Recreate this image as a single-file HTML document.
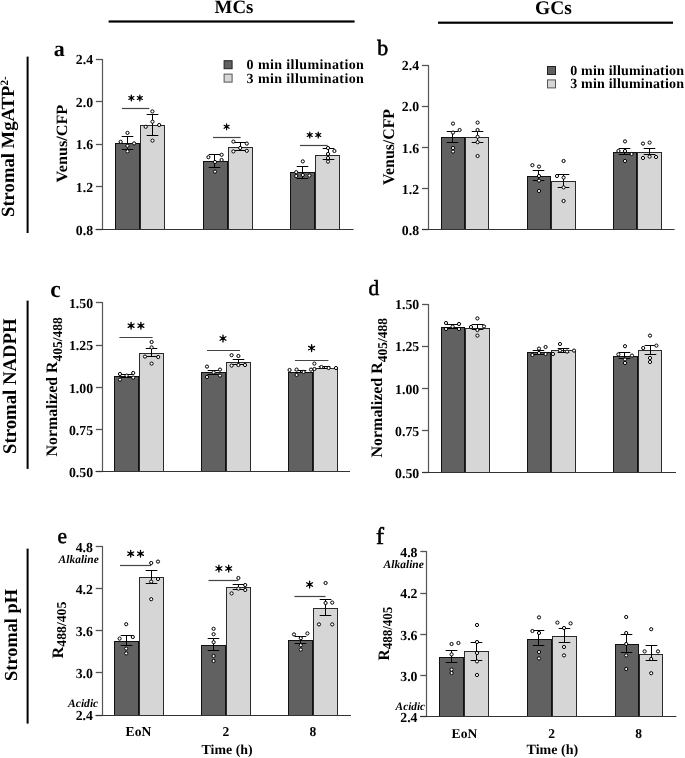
<!DOCTYPE html>
<html><head><meta charset="utf-8"><title>Figure</title>
<style>
html,body{margin:0;padding:0;background:#fff;}
body{width:685px;height:758px;overflow:hidden;}
svg{display:block;font-family:'Liberation Serif', serif;text-rendering:geometricPrecision;filter:grayscale(1);}
</style></head>
<body>
<svg width="685" height="758" viewBox="0 0 685 758">
<rect x="0" y="0" width="685" height="758" fill="#fff"/>
<line x1="95.90" y1="59.50" x2="102.50" y2="59.50" stroke="#555" stroke-width="1.3"/>
<text x="93.10" y="64.30" font-size="13.8" text-anchor="end" font-weight="bold" font-style="normal" >2.4</text>
<line x1="95.90" y1="101.50" x2="102.50" y2="101.50" stroke="#555" stroke-width="1.3"/>
<text x="93.10" y="106.80" font-size="13.8" text-anchor="end" font-weight="bold" font-style="normal" >2.0</text>
<line x1="95.90" y1="144.50" x2="102.50" y2="144.50" stroke="#555" stroke-width="1.3"/>
<text x="93.10" y="149.30" font-size="13.8" text-anchor="end" font-weight="bold" font-style="normal" >1.6</text>
<line x1="95.90" y1="186.50" x2="102.50" y2="186.50" stroke="#555" stroke-width="1.3"/>
<text x="93.10" y="191.90" font-size="13.8" text-anchor="end" font-weight="bold" font-style="normal" >1.2</text>
<line x1="95.90" y1="229.50" x2="102.50" y2="229.50" stroke="#555" stroke-width="1.3"/>
<text x="93.10" y="234.50" font-size="13.8" text-anchor="end" font-weight="bold" font-style="normal" >0.8</text>
<line x1="102.50" y1="59.00" x2="102.50" y2="229.50" stroke="#555" stroke-width="1.2"/>
<rect x="115.50" y="143.50" width="24.00" height="86.00" fill="#616161" stroke="#111" stroke-width="1.0"/>
<rect x="140.50" y="125.50" width="24.00" height="104.00" fill="#d6d6d6" stroke="#2a2a2a" stroke-width="1.0"/>
<rect x="203.50" y="161.50" width="24.00" height="68.00" fill="#616161" stroke="#111" stroke-width="1.0"/>
<rect x="228.50" y="147.50" width="24.00" height="82.00" fill="#d6d6d6" stroke="#2a2a2a" stroke-width="1.0"/>
<rect x="290.50" y="172.50" width="24.00" height="57.00" fill="#616161" stroke="#111" stroke-width="1.0"/>
<rect x="315.50" y="155.50" width="24.00" height="74.00" fill="#d6d6d6" stroke="#2a2a2a" stroke-width="1.0"/>
<line x1="95.60" y1="229.50" x2="353.60" y2="229.50" stroke="#333" stroke-width="1.0"/>
<line x1="127.50" y1="136.50" x2="127.50" y2="149.50" stroke="#000" stroke-width="1.0"/>
<line x1="121.70" y1="136.50" x2="133.30" y2="136.50" stroke="#000" stroke-width="1.0"/>
<line x1="121.70" y1="149.50" x2="133.30" y2="149.50" stroke="#000" stroke-width="1.0"/>
<line x1="152.50" y1="114.50" x2="152.50" y2="135.50" stroke="#000" stroke-width="1.0"/>
<line x1="146.70" y1="114.50" x2="158.30" y2="114.50" stroke="#000" stroke-width="1.0"/>
<line x1="146.70" y1="135.50" x2="158.30" y2="135.50" stroke="#000" stroke-width="1.0"/>
<circle cx="127.50" cy="132.90" r="1.6" fill="#fff" stroke="#000" stroke-width="1.0"/>
<circle cx="120.70" cy="141.80" r="1.6" fill="#fff" stroke="#000" stroke-width="1.0"/>
<circle cx="134.10" cy="143.40" r="1.6" fill="#fff" stroke="#000" stroke-width="1.0"/>
<circle cx="127.50" cy="145.80" r="1.6" fill="#fff" stroke="#000" stroke-width="1.0"/>
<circle cx="127.50" cy="151.30" r="1.6" fill="#fff" stroke="#000" stroke-width="1.0"/>
<circle cx="152.40" cy="111.40" r="1.6" fill="#fff" stroke="#000" stroke-width="1.0"/>
<circle cx="152.50" cy="121.70" r="1.6" fill="#fff" stroke="#000" stroke-width="1.0"/>
<circle cx="145.70" cy="126.80" r="1.6" fill="#fff" stroke="#000" stroke-width="1.0"/>
<circle cx="159.20" cy="125.00" r="1.6" fill="#fff" stroke="#000" stroke-width="1.0"/>
<circle cx="152.50" cy="140.60" r="1.6" fill="#fff" stroke="#000" stroke-width="1.0"/>
<line x1="122.00" y1="108.50" x2="149.40" y2="108.50" stroke="#444" stroke-width="1.2"/>
<path d="M131.35 95.10L131.35 100.90M128.84 96.55L133.86 99.45M133.86 96.55L128.84 99.45" stroke="#000" stroke-width="1.2" stroke-linecap="round"/>
<circle cx="131.35" cy="98.00" r="1.45" fill="#000"/>
<path d="M139.85 95.10L139.85 100.90M137.34 96.55L142.36 99.45M142.36 96.55L137.34 99.45" stroke="#000" stroke-width="1.2" stroke-linecap="round"/>
<circle cx="139.85" cy="98.00" r="1.45" fill="#000"/>
<line x1="214.50" y1="154.50" x2="214.50" y2="167.50" stroke="#000" stroke-width="1.0"/>
<line x1="208.70" y1="154.50" x2="220.30" y2="154.50" stroke="#000" stroke-width="1.0"/>
<line x1="208.70" y1="167.50" x2="220.30" y2="167.50" stroke="#000" stroke-width="1.0"/>
<line x1="240.50" y1="142.50" x2="240.50" y2="150.50" stroke="#000" stroke-width="1.0"/>
<line x1="234.70" y1="142.50" x2="246.30" y2="142.50" stroke="#000" stroke-width="1.0"/>
<line x1="234.70" y1="150.50" x2="246.30" y2="150.50" stroke="#000" stroke-width="1.0"/>
<circle cx="208.40" cy="157.20" r="1.6" fill="#fff" stroke="#000" stroke-width="1.0"/>
<circle cx="221.60" cy="154.80" r="1.6" fill="#fff" stroke="#000" stroke-width="1.0"/>
<circle cx="221.60" cy="160.00" r="1.6" fill="#fff" stroke="#000" stroke-width="1.0"/>
<circle cx="215.00" cy="162.00" r="1.6" fill="#fff" stroke="#000" stroke-width="1.0"/>
<circle cx="215.00" cy="171.60" r="1.6" fill="#fff" stroke="#000" stroke-width="1.0"/>
<circle cx="233.40" cy="141.60" r="1.6" fill="#fff" stroke="#000" stroke-width="1.0"/>
<circle cx="246.80" cy="143.60" r="1.6" fill="#fff" stroke="#000" stroke-width="1.0"/>
<circle cx="240.20" cy="148.00" r="1.6" fill="#fff" stroke="#000" stroke-width="1.0"/>
<circle cx="233.40" cy="151.40" r="1.6" fill="#fff" stroke="#000" stroke-width="1.0"/>
<circle cx="246.80" cy="150.80" r="1.6" fill="#fff" stroke="#000" stroke-width="1.0"/>
<line x1="213.00" y1="137.50" x2="240.60" y2="137.50" stroke="#444" stroke-width="1.2"/>
<path d="M226.60 123.90L226.60 129.70M224.09 125.35L229.11 128.25M229.11 125.35L224.09 128.25" stroke="#000" stroke-width="1.2" stroke-linecap="round"/>
<circle cx="226.60" cy="126.80" r="1.45" fill="#000"/>
<line x1="302.50" y1="166.50" x2="302.50" y2="178.50" stroke="#000" stroke-width="1.0"/>
<line x1="296.70" y1="166.50" x2="308.30" y2="166.50" stroke="#000" stroke-width="1.0"/>
<line x1="296.70" y1="178.50" x2="308.30" y2="178.50" stroke="#000" stroke-width="1.0"/>
<line x1="328.50" y1="148.50" x2="328.50" y2="159.50" stroke="#000" stroke-width="1.0"/>
<line x1="322.70" y1="148.50" x2="334.30" y2="148.50" stroke="#000" stroke-width="1.0"/>
<line x1="322.70" y1="159.50" x2="334.30" y2="159.50" stroke="#000" stroke-width="1.0"/>
<circle cx="302.80" cy="161.40" r="1.6" fill="#fff" stroke="#000" stroke-width="1.0"/>
<circle cx="296.20" cy="172.20" r="1.6" fill="#fff" stroke="#000" stroke-width="1.0"/>
<circle cx="296.20" cy="176.00" r="1.6" fill="#fff" stroke="#000" stroke-width="1.0"/>
<circle cx="302.80" cy="175.00" r="1.6" fill="#fff" stroke="#000" stroke-width="1.0"/>
<circle cx="309.40" cy="175.60" r="1.6" fill="#fff" stroke="#000" stroke-width="1.0"/>
<circle cx="328.00" cy="148.00" r="1.6" fill="#fff" stroke="#000" stroke-width="1.0"/>
<circle cx="334.40" cy="151.00" r="1.6" fill="#fff" stroke="#000" stroke-width="1.0"/>
<circle cx="328.00" cy="154.00" r="1.6" fill="#fff" stroke="#000" stroke-width="1.0"/>
<circle cx="328.00" cy="158.00" r="1.6" fill="#fff" stroke="#000" stroke-width="1.0"/>
<circle cx="328.00" cy="161.60" r="1.6" fill="#fff" stroke="#000" stroke-width="1.0"/>
<line x1="300.00" y1="145.50" x2="327.60" y2="145.50" stroke="#444" stroke-width="1.2"/>
<path d="M309.75 132.10L309.75 137.90M307.24 133.55L312.26 136.45M312.26 133.55L307.24 136.45" stroke="#000" stroke-width="1.2" stroke-linecap="round"/>
<circle cx="309.75" cy="135.00" r="1.45" fill="#000"/>
<path d="M318.25 132.10L318.25 137.90M315.74 133.55L320.76 136.45M320.76 133.55L315.74 136.45" stroke="#000" stroke-width="1.2" stroke-linecap="round"/>
<circle cx="318.25" cy="135.00" r="1.45" fill="#000"/>
<line x1="421.90" y1="65.50" x2="428.50" y2="65.50" stroke="#555" stroke-width="1.3"/>
<text x="419.10" y="70.30" font-size="13.8" text-anchor="end" font-weight="bold" font-style="normal" >2.4</text>
<line x1="421.90" y1="106.50" x2="428.50" y2="106.50" stroke="#555" stroke-width="1.3"/>
<text x="419.10" y="111.30" font-size="13.8" text-anchor="end" font-weight="bold" font-style="normal" >2.0</text>
<line x1="421.90" y1="147.50" x2="428.50" y2="147.50" stroke="#555" stroke-width="1.3"/>
<text x="419.10" y="152.70" font-size="13.8" text-anchor="end" font-weight="bold" font-style="normal" >1.6</text>
<line x1="421.90" y1="188.50" x2="428.50" y2="188.50" stroke="#555" stroke-width="1.3"/>
<text x="419.10" y="193.50" font-size="13.8" text-anchor="end" font-weight="bold" font-style="normal" >1.2</text>
<line x1="421.90" y1="229.50" x2="428.50" y2="229.50" stroke="#555" stroke-width="1.3"/>
<text x="419.10" y="234.70" font-size="13.8" text-anchor="end" font-weight="bold" font-style="normal" >0.8</text>
<line x1="428.50" y1="65.00" x2="428.50" y2="229.50" stroke="#555" stroke-width="1.2"/>
<rect x="441.50" y="137.50" width="23.00" height="92.00" fill="#616161" stroke="#111" stroke-width="1.0"/>
<rect x="465.50" y="137.50" width="23.00" height="92.00" fill="#d6d6d6" stroke="#2a2a2a" stroke-width="1.0"/>
<rect x="527.50" y="176.50" width="23.00" height="53.00" fill="#616161" stroke="#111" stroke-width="1.0"/>
<rect x="551.50" y="181.50" width="24.00" height="48.00" fill="#d6d6d6" stroke="#2a2a2a" stroke-width="1.0"/>
<rect x="613.50" y="152.50" width="23.00" height="77.00" fill="#616161" stroke="#111" stroke-width="1.0"/>
<rect x="637.50" y="152.50" width="24.00" height="77.00" fill="#d6d6d6" stroke="#2a2a2a" stroke-width="1.0"/>
<line x1="422.00" y1="229.50" x2="674.60" y2="229.50" stroke="#333" stroke-width="1.0"/>
<line x1="452.50" y1="131.50" x2="452.50" y2="142.50" stroke="#000" stroke-width="1.0"/>
<line x1="446.70" y1="131.50" x2="458.30" y2="131.50" stroke="#000" stroke-width="1.0"/>
<line x1="446.70" y1="142.50" x2="458.30" y2="142.50" stroke="#000" stroke-width="1.0"/>
<line x1="477.50" y1="131.50" x2="477.50" y2="142.50" stroke="#000" stroke-width="1.0"/>
<line x1="471.70" y1="131.50" x2="483.30" y2="131.50" stroke="#000" stroke-width="1.0"/>
<line x1="471.70" y1="142.50" x2="483.30" y2="142.50" stroke="#000" stroke-width="1.0"/>
<circle cx="453.00" cy="123.60" r="1.6" fill="#fff" stroke="#000" stroke-width="1.0"/>
<circle cx="459.60" cy="130.00" r="1.6" fill="#fff" stroke="#000" stroke-width="1.0"/>
<circle cx="453.00" cy="132.60" r="1.6" fill="#fff" stroke="#000" stroke-width="1.0"/>
<circle cx="453.00" cy="148.00" r="1.6" fill="#fff" stroke="#000" stroke-width="1.0"/>
<circle cx="453.00" cy="151.60" r="1.6" fill="#fff" stroke="#000" stroke-width="1.0"/>
<circle cx="477.60" cy="122.60" r="1.6" fill="#fff" stroke="#000" stroke-width="1.0"/>
<circle cx="477.60" cy="130.00" r="1.6" fill="#fff" stroke="#000" stroke-width="1.0"/>
<circle cx="477.60" cy="136.80" r="1.6" fill="#fff" stroke="#000" stroke-width="1.0"/>
<circle cx="477.60" cy="142.20" r="1.6" fill="#fff" stroke="#000" stroke-width="1.0"/>
<circle cx="477.60" cy="156.00" r="1.6" fill="#fff" stroke="#000" stroke-width="1.0"/>
<line x1="538.50" y1="170.50" x2="538.50" y2="180.50" stroke="#000" stroke-width="1.0"/>
<line x1="532.70" y1="170.50" x2="544.30" y2="170.50" stroke="#000" stroke-width="1.0"/>
<line x1="532.70" y1="180.50" x2="544.30" y2="180.50" stroke="#000" stroke-width="1.0"/>
<line x1="563.50" y1="174.50" x2="563.50" y2="187.50" stroke="#000" stroke-width="1.0"/>
<line x1="557.70" y1="174.50" x2="569.30" y2="174.50" stroke="#000" stroke-width="1.0"/>
<line x1="557.70" y1="187.50" x2="569.30" y2="187.50" stroke="#000" stroke-width="1.0"/>
<circle cx="532.40" cy="165.20" r="1.6" fill="#fff" stroke="#000" stroke-width="1.0"/>
<circle cx="539.00" cy="166.60" r="1.6" fill="#fff" stroke="#000" stroke-width="1.0"/>
<circle cx="539.00" cy="176.00" r="1.6" fill="#fff" stroke="#000" stroke-width="1.0"/>
<circle cx="539.00" cy="180.60" r="1.6" fill="#fff" stroke="#000" stroke-width="1.0"/>
<circle cx="539.00" cy="191.00" r="1.6" fill="#fff" stroke="#000" stroke-width="1.0"/>
<circle cx="563.60" cy="161.00" r="1.6" fill="#fff" stroke="#000" stroke-width="1.0"/>
<circle cx="557.00" cy="176.00" r="1.6" fill="#fff" stroke="#000" stroke-width="1.0"/>
<circle cx="563.60" cy="177.60" r="1.6" fill="#fff" stroke="#000" stroke-width="1.0"/>
<circle cx="563.60" cy="187.40" r="1.6" fill="#fff" stroke="#000" stroke-width="1.0"/>
<circle cx="563.60" cy="201.00" r="1.6" fill="#fff" stroke="#000" stroke-width="1.0"/>
<line x1="624.50" y1="148.50" x2="624.50" y2="154.50" stroke="#000" stroke-width="1.0"/>
<line x1="618.70" y1="148.50" x2="630.30" y2="148.50" stroke="#000" stroke-width="1.0"/>
<line x1="618.70" y1="154.50" x2="630.30" y2="154.50" stroke="#000" stroke-width="1.0"/>
<line x1="649.50" y1="148.50" x2="649.50" y2="154.50" stroke="#000" stroke-width="1.0"/>
<line x1="643.70" y1="148.50" x2="655.30" y2="148.50" stroke="#000" stroke-width="1.0"/>
<line x1="643.70" y1="154.50" x2="655.30" y2="154.50" stroke="#000" stroke-width="1.0"/>
<circle cx="625.00" cy="141.40" r="1.6" fill="#fff" stroke="#000" stroke-width="1.0"/>
<circle cx="618.40" cy="151.00" r="1.6" fill="#fff" stroke="#000" stroke-width="1.0"/>
<circle cx="625.00" cy="151.00" r="1.6" fill="#fff" stroke="#000" stroke-width="1.0"/>
<circle cx="631.60" cy="154.00" r="1.6" fill="#fff" stroke="#000" stroke-width="1.0"/>
<circle cx="625.00" cy="161.00" r="1.6" fill="#fff" stroke="#000" stroke-width="1.0"/>
<circle cx="643.00" cy="143.60" r="1.6" fill="#fff" stroke="#000" stroke-width="1.0"/>
<circle cx="649.60" cy="142.60" r="1.6" fill="#fff" stroke="#000" stroke-width="1.0"/>
<circle cx="643.00" cy="158.00" r="1.6" fill="#fff" stroke="#000" stroke-width="1.0"/>
<circle cx="649.60" cy="156.60" r="1.6" fill="#fff" stroke="#000" stroke-width="1.0"/>
<circle cx="656.00" cy="157.00" r="1.6" fill="#fff" stroke="#000" stroke-width="1.0"/>
<line x1="95.90" y1="302.50" x2="102.50" y2="302.50" stroke="#555" stroke-width="1.3"/>
<text x="93.10" y="308.10" font-size="13.8" text-anchor="end" font-weight="bold" font-style="normal" >1.50</text>
<line x1="95.90" y1="345.50" x2="102.50" y2="345.50" stroke="#555" stroke-width="1.3"/>
<text x="93.10" y="350.30" font-size="13.8" text-anchor="end" font-weight="bold" font-style="normal" >1.25</text>
<line x1="95.90" y1="387.50" x2="102.50" y2="387.50" stroke="#555" stroke-width="1.3"/>
<text x="93.10" y="392.70" font-size="13.8" text-anchor="end" font-weight="bold" font-style="normal" >1.00</text>
<line x1="95.90" y1="429.50" x2="102.50" y2="429.50" stroke="#555" stroke-width="1.3"/>
<text x="93.10" y="434.70" font-size="13.8" text-anchor="end" font-weight="bold" font-style="normal" >0.75</text>
<line x1="95.90" y1="471.50" x2="102.50" y2="471.50" stroke="#555" stroke-width="1.3"/>
<text x="93.10" y="477.10" font-size="13.8" text-anchor="end" font-weight="bold" font-style="normal" >0.50</text>
<line x1="102.50" y1="302.00" x2="102.50" y2="471.50" stroke="#555" stroke-width="1.2"/>
<rect x="114.50" y="376.50" width="24.00" height="95.00" fill="#616161" stroke="#111" stroke-width="1.0"/>
<rect x="139.50" y="353.50" width="24.00" height="118.00" fill="#d6d6d6" stroke="#2a2a2a" stroke-width="1.0"/>
<rect x="201.50" y="372.50" width="24.00" height="99.00" fill="#616161" stroke="#111" stroke-width="1.0"/>
<rect x="226.50" y="362.50" width="24.00" height="109.00" fill="#d6d6d6" stroke="#2a2a2a" stroke-width="1.0"/>
<rect x="288.50" y="372.50" width="24.00" height="99.00" fill="#616161" stroke="#111" stroke-width="1.0"/>
<rect x="313.50" y="368.50" width="24.00" height="103.00" fill="#d6d6d6" stroke="#2a2a2a" stroke-width="1.0"/>
<line x1="95.60" y1="471.50" x2="350.00" y2="471.50" stroke="#333" stroke-width="1.0"/>
<line x1="126.50" y1="374.50" x2="126.50" y2="377.50" stroke="#000" stroke-width="1.0"/>
<line x1="120.70" y1="374.50" x2="132.30" y2="374.50" stroke="#000" stroke-width="1.0"/>
<line x1="120.70" y1="377.50" x2="132.30" y2="377.50" stroke="#000" stroke-width="1.0"/>
<line x1="151.50" y1="348.50" x2="151.50" y2="356.50" stroke="#000" stroke-width="1.0"/>
<line x1="145.70" y1="348.50" x2="157.30" y2="348.50" stroke="#000" stroke-width="1.0"/>
<line x1="145.70" y1="356.50" x2="157.30" y2="356.50" stroke="#000" stroke-width="1.0"/>
<circle cx="120.00" cy="374.00" r="1.6" fill="#fff" stroke="#000" stroke-width="1.0"/>
<circle cx="126.60" cy="375.60" r="1.6" fill="#fff" stroke="#000" stroke-width="1.0"/>
<circle cx="133.20" cy="373.00" r="1.6" fill="#fff" stroke="#000" stroke-width="1.0"/>
<circle cx="120.00" cy="379.60" r="1.6" fill="#fff" stroke="#000" stroke-width="1.0"/>
<circle cx="133.20" cy="377.60" r="1.6" fill="#fff" stroke="#000" stroke-width="1.0"/>
<circle cx="151.60" cy="342.00" r="1.6" fill="#fff" stroke="#000" stroke-width="1.0"/>
<circle cx="151.60" cy="347.40" r="1.6" fill="#fff" stroke="#000" stroke-width="1.0"/>
<circle cx="145.00" cy="356.60" r="1.6" fill="#fff" stroke="#000" stroke-width="1.0"/>
<circle cx="158.20" cy="357.00" r="1.6" fill="#fff" stroke="#000" stroke-width="1.0"/>
<circle cx="151.60" cy="363.60" r="1.6" fill="#fff" stroke="#000" stroke-width="1.0"/>
<line x1="119.40" y1="337.50" x2="152.60" y2="337.50" stroke="#444" stroke-width="1.2"/>
<path d="M131.10 322.30L131.10 329.10M128.16 324.00L134.04 327.40M134.04 324.00L128.16 327.40" stroke="#000" stroke-width="1.3" stroke-linecap="round"/>
<circle cx="131.10" cy="325.70" r="1.75" fill="#000"/>
<path d="M140.90 322.30L140.90 329.10M137.96 324.00L143.84 327.40M143.84 324.00L137.96 327.40" stroke="#000" stroke-width="1.3" stroke-linecap="round"/>
<circle cx="140.90" cy="325.70" r="1.75" fill="#000"/>
<line x1="213.50" y1="370.50" x2="213.50" y2="374.50" stroke="#000" stroke-width="1.0"/>
<line x1="207.70" y1="370.50" x2="219.30" y2="370.50" stroke="#000" stroke-width="1.0"/>
<line x1="207.70" y1="374.50" x2="219.30" y2="374.50" stroke="#000" stroke-width="1.0"/>
<line x1="238.50" y1="359.50" x2="238.50" y2="364.50" stroke="#000" stroke-width="1.0"/>
<line x1="232.70" y1="359.50" x2="244.30" y2="359.50" stroke="#000" stroke-width="1.0"/>
<line x1="232.70" y1="364.50" x2="244.30" y2="364.50" stroke="#000" stroke-width="1.0"/>
<circle cx="207.00" cy="366.60" r="1.6" fill="#fff" stroke="#000" stroke-width="1.0"/>
<circle cx="220.00" cy="369.60" r="1.6" fill="#fff" stroke="#000" stroke-width="1.0"/>
<circle cx="213.60" cy="372.40" r="1.6" fill="#fff" stroke="#000" stroke-width="1.0"/>
<circle cx="207.00" cy="377.00" r="1.6" fill="#fff" stroke="#000" stroke-width="1.0"/>
<circle cx="220.00" cy="375.60" r="1.6" fill="#fff" stroke="#000" stroke-width="1.0"/>
<circle cx="231.60" cy="355.20" r="1.6" fill="#fff" stroke="#000" stroke-width="1.0"/>
<circle cx="238.40" cy="356.00" r="1.6" fill="#fff" stroke="#000" stroke-width="1.0"/>
<circle cx="231.60" cy="365.60" r="1.6" fill="#fff" stroke="#000" stroke-width="1.0"/>
<circle cx="238.40" cy="365.00" r="1.6" fill="#fff" stroke="#000" stroke-width="1.0"/>
<circle cx="245.00" cy="365.00" r="1.6" fill="#fff" stroke="#000" stroke-width="1.0"/>
<line x1="207.00" y1="350.50" x2="240.00" y2="350.50" stroke="#444" stroke-width="1.2"/>
<path d="M223.00 335.10L223.00 341.90M220.06 336.80L225.94 340.20M225.94 336.80L220.06 340.20" stroke="#000" stroke-width="1.3" stroke-linecap="round"/>
<circle cx="223.00" cy="338.50" r="1.75" fill="#000"/>
<line x1="300.50" y1="370.50" x2="300.50" y2="372.50" stroke="#000" stroke-width="1.0"/>
<line x1="294.70" y1="370.50" x2="306.30" y2="370.50" stroke="#000" stroke-width="1.0"/>
<line x1="294.70" y1="372.50" x2="306.30" y2="372.50" stroke="#000" stroke-width="1.0"/>
<line x1="324.50" y1="366.50" x2="324.50" y2="368.50" stroke="#000" stroke-width="1.0"/>
<line x1="318.70" y1="366.50" x2="330.30" y2="366.50" stroke="#000" stroke-width="1.0"/>
<line x1="318.70" y1="368.50" x2="330.30" y2="368.50" stroke="#000" stroke-width="1.0"/>
<circle cx="289.60" cy="370.00" r="1.6" fill="#fff" stroke="#000" stroke-width="1.0"/>
<circle cx="296.60" cy="369.60" r="1.6" fill="#fff" stroke="#000" stroke-width="1.0"/>
<circle cx="296.60" cy="375.00" r="1.6" fill="#fff" stroke="#000" stroke-width="1.0"/>
<circle cx="303.60" cy="372.00" r="1.6" fill="#fff" stroke="#000" stroke-width="1.0"/>
<circle cx="311.00" cy="369.60" r="1.6" fill="#fff" stroke="#000" stroke-width="1.0"/>
<circle cx="314.40" cy="363.60" r="1.6" fill="#fff" stroke="#000" stroke-width="1.0"/>
<circle cx="314.40" cy="369.00" r="1.6" fill="#fff" stroke="#000" stroke-width="1.0"/>
<circle cx="321.40" cy="367.00" r="1.6" fill="#fff" stroke="#000" stroke-width="1.0"/>
<circle cx="328.60" cy="368.00" r="1.6" fill="#fff" stroke="#000" stroke-width="1.0"/>
<circle cx="336.00" cy="368.00" r="1.6" fill="#fff" stroke="#000" stroke-width="1.0"/>
<line x1="295.00" y1="360.50" x2="328.40" y2="360.50" stroke="#444" stroke-width="1.2"/>
<path d="M311.60 344.70L311.60 351.50M308.66 346.40L314.54 349.80M314.54 346.40L308.66 349.80" stroke="#000" stroke-width="1.3" stroke-linecap="round"/>
<circle cx="311.60" cy="348.10" r="1.75" fill="#000"/>
<line x1="422.00" y1="304.50" x2="428.50" y2="304.50" stroke="#555" stroke-width="1.3"/>
<text x="419.20" y="309.30" font-size="13.8" text-anchor="end" font-weight="bold" font-style="normal" >1.50</text>
<line x1="422.00" y1="346.50" x2="428.50" y2="346.50" stroke="#555" stroke-width="1.3"/>
<text x="419.20" y="351.30" font-size="13.8" text-anchor="end" font-weight="bold" font-style="normal" >1.25</text>
<line x1="422.00" y1="388.50" x2="428.50" y2="388.50" stroke="#555" stroke-width="1.3"/>
<text x="419.20" y="393.70" font-size="13.8" text-anchor="end" font-weight="bold" font-style="normal" >1.00</text>
<line x1="422.00" y1="430.50" x2="428.50" y2="430.50" stroke="#555" stroke-width="1.3"/>
<text x="419.20" y="435.90" font-size="13.8" text-anchor="end" font-weight="bold" font-style="normal" >0.75</text>
<line x1="422.00" y1="472.50" x2="428.50" y2="472.50" stroke="#555" stroke-width="1.3"/>
<text x="419.20" y="478.10" font-size="13.8" text-anchor="end" font-weight="bold" font-style="normal" >0.50</text>
<line x1="428.50" y1="304.00" x2="428.50" y2="472.50" stroke="#555" stroke-width="1.2"/>
<rect x="441.50" y="327.50" width="23.00" height="145.00" fill="#616161" stroke="#111" stroke-width="1.0"/>
<rect x="465.50" y="328.50" width="24.00" height="144.00" fill="#d6d6d6" stroke="#2a2a2a" stroke-width="1.0"/>
<rect x="527.50" y="352.50" width="23.00" height="120.00" fill="#616161" stroke="#111" stroke-width="1.0"/>
<rect x="551.50" y="350.50" width="24.00" height="122.00" fill="#d6d6d6" stroke="#2a2a2a" stroke-width="1.0"/>
<rect x="613.50" y="356.50" width="24.00" height="116.00" fill="#616161" stroke="#111" stroke-width="1.0"/>
<rect x="638.50" y="350.50" width="23.00" height="122.00" fill="#d6d6d6" stroke="#2a2a2a" stroke-width="1.0"/>
<line x1="422.00" y1="472.50" x2="676.00" y2="472.50" stroke="#333" stroke-width="1.0"/>
<line x1="452.50" y1="324.50" x2="452.50" y2="328.50" stroke="#000" stroke-width="1.0"/>
<line x1="446.70" y1="324.50" x2="458.30" y2="324.50" stroke="#000" stroke-width="1.0"/>
<line x1="446.70" y1="328.50" x2="458.30" y2="328.50" stroke="#000" stroke-width="1.0"/>
<line x1="477.50" y1="324.50" x2="477.50" y2="329.50" stroke="#000" stroke-width="1.0"/>
<line x1="471.70" y1="324.50" x2="483.30" y2="324.50" stroke="#000" stroke-width="1.0"/>
<line x1="471.70" y1="329.50" x2="483.30" y2="329.50" stroke="#000" stroke-width="1.0"/>
<circle cx="446.00" cy="323.00" r="1.6" fill="#fff" stroke="#000" stroke-width="1.0"/>
<circle cx="446.00" cy="329.00" r="1.6" fill="#fff" stroke="#000" stroke-width="1.0"/>
<circle cx="452.60" cy="326.60" r="1.6" fill="#fff" stroke="#000" stroke-width="1.0"/>
<circle cx="459.00" cy="324.00" r="1.6" fill="#fff" stroke="#000" stroke-width="1.0"/>
<circle cx="459.00" cy="329.00" r="1.6" fill="#fff" stroke="#000" stroke-width="1.0"/>
<circle cx="477.40" cy="318.40" r="1.6" fill="#fff" stroke="#000" stroke-width="1.0"/>
<circle cx="471.00" cy="327.00" r="1.6" fill="#fff" stroke="#000" stroke-width="1.0"/>
<circle cx="477.40" cy="330.00" r="1.6" fill="#fff" stroke="#000" stroke-width="1.0"/>
<circle cx="484.00" cy="326.40" r="1.6" fill="#fff" stroke="#000" stroke-width="1.0"/>
<circle cx="477.40" cy="335.60" r="1.6" fill="#fff" stroke="#000" stroke-width="1.0"/>
<line x1="538.50" y1="350.50" x2="538.50" y2="354.50" stroke="#000" stroke-width="1.0"/>
<line x1="532.70" y1="350.50" x2="544.30" y2="350.50" stroke="#000" stroke-width="1.0"/>
<line x1="532.70" y1="354.50" x2="544.30" y2="354.50" stroke="#000" stroke-width="1.0"/>
<line x1="563.50" y1="348.50" x2="563.50" y2="352.50" stroke="#000" stroke-width="1.0"/>
<line x1="557.70" y1="348.50" x2="569.30" y2="348.50" stroke="#000" stroke-width="1.0"/>
<line x1="557.70" y1="352.50" x2="569.30" y2="352.50" stroke="#000" stroke-width="1.0"/>
<circle cx="532.40" cy="355.00" r="1.6" fill="#fff" stroke="#000" stroke-width="1.0"/>
<circle cx="539.00" cy="348.60" r="1.6" fill="#fff" stroke="#000" stroke-width="1.0"/>
<circle cx="539.00" cy="353.00" r="1.6" fill="#fff" stroke="#000" stroke-width="1.0"/>
<circle cx="545.60" cy="347.00" r="1.6" fill="#fff" stroke="#000" stroke-width="1.0"/>
<circle cx="545.60" cy="354.00" r="1.6" fill="#fff" stroke="#000" stroke-width="1.0"/>
<circle cx="560.00" cy="344.00" r="1.6" fill="#fff" stroke="#000" stroke-width="1.0"/>
<circle cx="560.00" cy="350.60" r="1.6" fill="#fff" stroke="#000" stroke-width="1.0"/>
<circle cx="567.00" cy="351.60" r="1.6" fill="#fff" stroke="#000" stroke-width="1.0"/>
<circle cx="574.00" cy="350.60" r="1.6" fill="#fff" stroke="#000" stroke-width="1.0"/>
<circle cx="553.00" cy="354.00" r="1.6" fill="#fff" stroke="#000" stroke-width="1.0"/>
<line x1="624.50" y1="352.50" x2="624.50" y2="358.50" stroke="#000" stroke-width="1.0"/>
<line x1="618.70" y1="352.50" x2="630.30" y2="352.50" stroke="#000" stroke-width="1.0"/>
<line x1="618.70" y1="358.50" x2="630.30" y2="358.50" stroke="#000" stroke-width="1.0"/>
<line x1="650.50" y1="345.50" x2="650.50" y2="354.50" stroke="#000" stroke-width="1.0"/>
<line x1="644.70" y1="345.50" x2="656.30" y2="345.50" stroke="#000" stroke-width="1.0"/>
<line x1="644.70" y1="354.50" x2="656.30" y2="354.50" stroke="#000" stroke-width="1.0"/>
<circle cx="625.00" cy="346.20" r="1.6" fill="#fff" stroke="#000" stroke-width="1.0"/>
<circle cx="618.40" cy="354.40" r="1.6" fill="#fff" stroke="#000" stroke-width="1.0"/>
<circle cx="625.00" cy="359.40" r="1.6" fill="#fff" stroke="#000" stroke-width="1.0"/>
<circle cx="625.00" cy="363.00" r="1.6" fill="#fff" stroke="#000" stroke-width="1.0"/>
<circle cx="632.00" cy="355.60" r="1.6" fill="#fff" stroke="#000" stroke-width="1.0"/>
<circle cx="650.00" cy="335.60" r="1.6" fill="#fff" stroke="#000" stroke-width="1.0"/>
<circle cx="643.20" cy="348.00" r="1.6" fill="#fff" stroke="#000" stroke-width="1.0"/>
<circle cx="656.40" cy="345.60" r="1.6" fill="#fff" stroke="#000" stroke-width="1.0"/>
<circle cx="650.00" cy="358.00" r="1.6" fill="#fff" stroke="#000" stroke-width="1.0"/>
<circle cx="650.00" cy="362.00" r="1.6" fill="#fff" stroke="#000" stroke-width="1.0"/>
<line x1="95.70" y1="546.50" x2="102.50" y2="546.50" stroke="#555" stroke-width="1.3"/>
<text x="92.90" y="551.90" font-size="13.8" text-anchor="end" font-weight="bold" font-style="normal" >4.8</text>
<line x1="95.70" y1="588.50" x2="102.50" y2="588.50" stroke="#555" stroke-width="1.3"/>
<text x="92.90" y="593.90" font-size="13.8" text-anchor="end" font-weight="bold" font-style="normal" >4.2</text>
<line x1="95.70" y1="630.50" x2="102.50" y2="630.50" stroke="#555" stroke-width="1.3"/>
<text x="92.90" y="636.10" font-size="13.8" text-anchor="end" font-weight="bold" font-style="normal" >3.6</text>
<line x1="95.70" y1="672.50" x2="102.50" y2="672.50" stroke="#555" stroke-width="1.3"/>
<text x="92.90" y="678.10" font-size="13.8" text-anchor="end" font-weight="bold" font-style="normal" >3.0</text>
<line x1="95.70" y1="715.50" x2="102.50" y2="715.50" stroke="#555" stroke-width="1.3"/>
<text x="92.90" y="720.30" font-size="13.8" text-anchor="end" font-weight="bold" font-style="normal" >2.4</text>
<line x1="102.50" y1="546.00" x2="102.50" y2="715.50" stroke="#555" stroke-width="1.2"/>
<rect x="114.50" y="641.50" width="24.00" height="74.00" fill="#616161" stroke="#111" stroke-width="1.0"/>
<rect x="139.50" y="577.50" width="24.00" height="138.00" fill="#d6d6d6" stroke="#2a2a2a" stroke-width="1.0"/>
<rect x="201.50" y="645.50" width="24.00" height="70.00" fill="#616161" stroke="#111" stroke-width="1.0"/>
<rect x="226.50" y="587.50" width="24.00" height="128.00" fill="#d6d6d6" stroke="#2a2a2a" stroke-width="1.0"/>
<rect x="288.50" y="640.50" width="24.00" height="75.00" fill="#616161" stroke="#111" stroke-width="1.0"/>
<rect x="313.50" y="608.50" width="24.00" height="107.00" fill="#d6d6d6" stroke="#2a2a2a" stroke-width="1.0"/>
<line x1="95.60" y1="715.50" x2="351.00" y2="715.50" stroke="#333" stroke-width="1.0"/>
<line x1="126.50" y1="635.50" x2="126.50" y2="645.50" stroke="#000" stroke-width="1.0"/>
<line x1="120.70" y1="635.50" x2="132.30" y2="635.50" stroke="#000" stroke-width="1.0"/>
<line x1="120.70" y1="645.50" x2="132.30" y2="645.50" stroke="#000" stroke-width="1.0"/>
<line x1="151.50" y1="570.50" x2="151.50" y2="583.50" stroke="#000" stroke-width="1.0"/>
<line x1="145.70" y1="570.50" x2="157.30" y2="570.50" stroke="#000" stroke-width="1.0"/>
<line x1="145.70" y1="583.50" x2="157.30" y2="583.50" stroke="#000" stroke-width="1.0"/>
<circle cx="126.20" cy="624.20" r="1.6" fill="#fff" stroke="#000" stroke-width="1.0"/>
<circle cx="119.60" cy="638.60" r="1.6" fill="#fff" stroke="#000" stroke-width="1.0"/>
<circle cx="132.80" cy="637.00" r="1.6" fill="#fff" stroke="#000" stroke-width="1.0"/>
<circle cx="126.20" cy="648.60" r="1.6" fill="#fff" stroke="#000" stroke-width="1.0"/>
<circle cx="126.20" cy="653.40" r="1.6" fill="#fff" stroke="#000" stroke-width="1.0"/>
<circle cx="151.20" cy="563.00" r="1.6" fill="#fff" stroke="#000" stroke-width="1.0"/>
<circle cx="158.00" cy="561.60" r="1.6" fill="#fff" stroke="#000" stroke-width="1.0"/>
<circle cx="158.00" cy="579.00" r="1.6" fill="#fff" stroke="#000" stroke-width="1.0"/>
<circle cx="151.20" cy="581.60" r="1.6" fill="#fff" stroke="#000" stroke-width="1.0"/>
<circle cx="151.20" cy="599.20" r="1.6" fill="#fff" stroke="#000" stroke-width="1.0"/>
<line x1="120.00" y1="565.50" x2="151.20" y2="565.50" stroke="#444" stroke-width="1.2"/>
<path d="M130.70 550.30L130.70 557.10M127.76 552.00L133.64 555.40M133.64 552.00L127.76 555.40" stroke="#000" stroke-width="1.3" stroke-linecap="round"/>
<circle cx="130.70" cy="553.70" r="1.75" fill="#000"/>
<path d="M140.50 550.30L140.50 557.10M137.56 552.00L143.44 555.40M143.44 552.00L137.56 555.40" stroke="#000" stroke-width="1.3" stroke-linecap="round"/>
<circle cx="140.50" cy="553.70" r="1.75" fill="#000"/>
<line x1="213.50" y1="638.50" x2="213.50" y2="650.50" stroke="#000" stroke-width="1.0"/>
<line x1="207.70" y1="638.50" x2="219.30" y2="638.50" stroke="#000" stroke-width="1.0"/>
<line x1="207.70" y1="650.50" x2="219.30" y2="650.50" stroke="#000" stroke-width="1.0"/>
<line x1="238.50" y1="584.50" x2="238.50" y2="589.50" stroke="#000" stroke-width="1.0"/>
<line x1="232.70" y1="584.50" x2="244.30" y2="584.50" stroke="#000" stroke-width="1.0"/>
<line x1="232.70" y1="589.50" x2="244.30" y2="589.50" stroke="#000" stroke-width="1.0"/>
<circle cx="213.60" cy="628.80" r="1.6" fill="#fff" stroke="#000" stroke-width="1.0"/>
<circle cx="213.60" cy="634.20" r="1.6" fill="#fff" stroke="#000" stroke-width="1.0"/>
<circle cx="213.60" cy="642.20" r="1.6" fill="#fff" stroke="#000" stroke-width="1.0"/>
<circle cx="213.60" cy="656.00" r="1.6" fill="#fff" stroke="#000" stroke-width="1.0"/>
<circle cx="213.60" cy="661.00" r="1.6" fill="#fff" stroke="#000" stroke-width="1.0"/>
<circle cx="238.40" cy="578.00" r="1.6" fill="#fff" stroke="#000" stroke-width="1.0"/>
<circle cx="245.20" cy="585.00" r="1.6" fill="#fff" stroke="#000" stroke-width="1.0"/>
<circle cx="238.40" cy="588.60" r="1.6" fill="#fff" stroke="#000" stroke-width="1.0"/>
<circle cx="245.20" cy="590.00" r="1.6" fill="#fff" stroke="#000" stroke-width="1.0"/>
<circle cx="231.60" cy="593.40" r="1.6" fill="#fff" stroke="#000" stroke-width="1.0"/>
<line x1="208.50" y1="580.50" x2="238.40" y2="580.50" stroke="#444" stroke-width="1.2"/>
<path d="M218.90 565.10L218.90 571.90M215.96 566.80L221.84 570.20M221.84 566.80L215.96 570.20" stroke="#000" stroke-width="1.3" stroke-linecap="round"/>
<circle cx="218.90" cy="568.50" r="1.75" fill="#000"/>
<path d="M228.70 565.10L228.70 571.90M225.76 566.80L231.64 570.20M231.64 566.80L225.76 570.20" stroke="#000" stroke-width="1.3" stroke-linecap="round"/>
<circle cx="228.70" cy="568.50" r="1.75" fill="#000"/>
<line x1="300.50" y1="636.50" x2="300.50" y2="643.50" stroke="#000" stroke-width="1.0"/>
<line x1="294.70" y1="636.50" x2="306.30" y2="636.50" stroke="#000" stroke-width="1.0"/>
<line x1="294.70" y1="643.50" x2="306.30" y2="643.50" stroke="#000" stroke-width="1.0"/>
<line x1="325.50" y1="599.50" x2="325.50" y2="615.50" stroke="#000" stroke-width="1.0"/>
<line x1="319.70" y1="599.50" x2="331.30" y2="599.50" stroke="#000" stroke-width="1.0"/>
<line x1="319.70" y1="615.50" x2="331.30" y2="615.50" stroke="#000" stroke-width="1.0"/>
<circle cx="294.00" cy="634.40" r="1.6" fill="#fff" stroke="#000" stroke-width="1.0"/>
<circle cx="307.40" cy="633.40" r="1.6" fill="#fff" stroke="#000" stroke-width="1.0"/>
<circle cx="300.80" cy="638.20" r="1.6" fill="#fff" stroke="#000" stroke-width="1.0"/>
<circle cx="300.80" cy="645.20" r="1.6" fill="#fff" stroke="#000" stroke-width="1.0"/>
<circle cx="300.80" cy="649.60" r="1.6" fill="#fff" stroke="#000" stroke-width="1.0"/>
<circle cx="325.60" cy="583.00" r="1.6" fill="#fff" stroke="#000" stroke-width="1.0"/>
<circle cx="325.60" cy="603.00" r="1.6" fill="#fff" stroke="#000" stroke-width="1.0"/>
<circle cx="332.20" cy="602.60" r="1.6" fill="#fff" stroke="#000" stroke-width="1.0"/>
<circle cx="319.00" cy="624.40" r="1.6" fill="#fff" stroke="#000" stroke-width="1.0"/>
<circle cx="332.20" cy="624.40" r="1.6" fill="#fff" stroke="#000" stroke-width="1.0"/>
<line x1="294.40" y1="596.50" x2="325.60" y2="596.50" stroke="#444" stroke-width="1.2"/>
<path d="M309.60 581.10L309.60 587.90M306.66 582.80L312.54 586.20M312.54 582.80L306.66 586.20" stroke="#000" stroke-width="1.3" stroke-linecap="round"/>
<circle cx="309.60" cy="584.50" r="1.75" fill="#000"/>
<line x1="420.30" y1="551.50" x2="426.50" y2="551.50" stroke="#555" stroke-width="1.3"/>
<text x="417.50" y="556.90" font-size="13.8" text-anchor="end" font-weight="bold" font-style="normal" >4.8</text>
<line x1="420.30" y1="593.50" x2="426.50" y2="593.50" stroke="#555" stroke-width="1.3"/>
<text x="417.50" y="598.30" font-size="13.8" text-anchor="end" font-weight="bold" font-style="normal" >4.2</text>
<line x1="420.30" y1="634.50" x2="426.50" y2="634.50" stroke="#555" stroke-width="1.3"/>
<text x="417.50" y="639.70" font-size="13.8" text-anchor="end" font-weight="bold" font-style="normal" >3.6</text>
<line x1="420.30" y1="675.50" x2="426.50" y2="675.50" stroke="#555" stroke-width="1.3"/>
<text x="417.50" y="680.70" font-size="13.8" text-anchor="end" font-weight="bold" font-style="normal" >3.0</text>
<line x1="420.30" y1="716.50" x2="426.50" y2="716.50" stroke="#555" stroke-width="1.3"/>
<text x="417.50" y="721.70" font-size="13.8" text-anchor="end" font-weight="bold" font-style="normal" >2.4</text>
<line x1="426.50" y1="551.00" x2="426.50" y2="716.50" stroke="#555" stroke-width="1.2"/>
<rect x="439.50" y="657.50" width="24.00" height="59.00" fill="#616161" stroke="#111" stroke-width="1.0"/>
<rect x="464.50" y="651.50" width="24.00" height="65.00" fill="#d6d6d6" stroke="#2a2a2a" stroke-width="1.0"/>
<rect x="527.50" y="639.50" width="24.00" height="77.00" fill="#616161" stroke="#111" stroke-width="1.0"/>
<rect x="552.50" y="636.50" width="24.00" height="80.00" fill="#d6d6d6" stroke="#2a2a2a" stroke-width="1.0"/>
<rect x="615.50" y="644.50" width="23.00" height="72.00" fill="#616161" stroke="#111" stroke-width="1.0"/>
<rect x="639.50" y="654.50" width="23.00" height="62.00" fill="#d6d6d6" stroke="#2a2a2a" stroke-width="1.0"/>
<line x1="420.00" y1="716.50" x2="676.40" y2="716.50" stroke="#333" stroke-width="1.0"/>
<line x1="451.50" y1="650.50" x2="451.50" y2="662.50" stroke="#000" stroke-width="1.0"/>
<line x1="445.70" y1="650.50" x2="457.30" y2="650.50" stroke="#000" stroke-width="1.0"/>
<line x1="445.70" y1="662.50" x2="457.30" y2="662.50" stroke="#000" stroke-width="1.0"/>
<line x1="476.50" y1="642.50" x2="476.50" y2="660.50" stroke="#000" stroke-width="1.0"/>
<line x1="470.70" y1="642.50" x2="482.30" y2="642.50" stroke="#000" stroke-width="1.0"/>
<line x1="470.70" y1="660.50" x2="482.30" y2="660.50" stroke="#000" stroke-width="1.0"/>
<circle cx="451.60" cy="644.00" r="1.6" fill="#fff" stroke="#000" stroke-width="1.0"/>
<circle cx="458.40" cy="643.00" r="1.6" fill="#fff" stroke="#000" stroke-width="1.0"/>
<circle cx="451.60" cy="654.40" r="1.6" fill="#fff" stroke="#000" stroke-width="1.0"/>
<circle cx="451.60" cy="669.60" r="1.6" fill="#fff" stroke="#000" stroke-width="1.0"/>
<circle cx="451.60" cy="673.00" r="1.6" fill="#fff" stroke="#000" stroke-width="1.0"/>
<circle cx="477.00" cy="625.00" r="1.6" fill="#fff" stroke="#000" stroke-width="1.0"/>
<circle cx="477.00" cy="642.00" r="1.6" fill="#fff" stroke="#000" stroke-width="1.0"/>
<circle cx="477.00" cy="653.00" r="1.6" fill="#fff" stroke="#000" stroke-width="1.0"/>
<circle cx="477.00" cy="661.40" r="1.6" fill="#fff" stroke="#000" stroke-width="1.0"/>
<circle cx="477.00" cy="675.00" r="1.6" fill="#fff" stroke="#000" stroke-width="1.0"/>
<line x1="538.50" y1="630.50" x2="538.50" y2="645.50" stroke="#000" stroke-width="1.0"/>
<line x1="532.70" y1="630.50" x2="544.30" y2="630.50" stroke="#000" stroke-width="1.0"/>
<line x1="532.70" y1="645.50" x2="544.30" y2="645.50" stroke="#000" stroke-width="1.0"/>
<line x1="564.50" y1="628.50" x2="564.50" y2="642.50" stroke="#000" stroke-width="1.0"/>
<line x1="558.70" y1="628.50" x2="570.30" y2="628.50" stroke="#000" stroke-width="1.0"/>
<line x1="558.70" y1="642.50" x2="570.30" y2="642.50" stroke="#000" stroke-width="1.0"/>
<circle cx="539.00" cy="617.40" r="1.6" fill="#fff" stroke="#000" stroke-width="1.0"/>
<circle cx="532.40" cy="631.00" r="1.6" fill="#fff" stroke="#000" stroke-width="1.0"/>
<circle cx="539.00" cy="633.00" r="1.6" fill="#fff" stroke="#000" stroke-width="1.0"/>
<circle cx="539.00" cy="652.00" r="1.6" fill="#fff" stroke="#000" stroke-width="1.0"/>
<circle cx="539.00" cy="658.40" r="1.6" fill="#fff" stroke="#000" stroke-width="1.0"/>
<circle cx="557.40" cy="622.60" r="1.6" fill="#fff" stroke="#000" stroke-width="1.0"/>
<circle cx="570.60" cy="623.40" r="1.6" fill="#fff" stroke="#000" stroke-width="1.0"/>
<circle cx="564.00" cy="628.00" r="1.6" fill="#fff" stroke="#000" stroke-width="1.0"/>
<circle cx="564.00" cy="647.00" r="1.6" fill="#fff" stroke="#000" stroke-width="1.0"/>
<circle cx="564.00" cy="655.40" r="1.6" fill="#fff" stroke="#000" stroke-width="1.0"/>
<line x1="626.50" y1="634.50" x2="626.50" y2="652.50" stroke="#000" stroke-width="1.0"/>
<line x1="620.70" y1="634.50" x2="632.30" y2="634.50" stroke="#000" stroke-width="1.0"/>
<line x1="620.70" y1="652.50" x2="632.30" y2="652.50" stroke="#000" stroke-width="1.0"/>
<line x1="651.50" y1="645.50" x2="651.50" y2="660.50" stroke="#000" stroke-width="1.0"/>
<line x1="645.70" y1="645.50" x2="657.30" y2="645.50" stroke="#000" stroke-width="1.0"/>
<line x1="645.70" y1="660.50" x2="657.30" y2="660.50" stroke="#000" stroke-width="1.0"/>
<circle cx="626.20" cy="617.00" r="1.6" fill="#fff" stroke="#000" stroke-width="1.0"/>
<circle cx="626.20" cy="633.00" r="1.6" fill="#fff" stroke="#000" stroke-width="1.0"/>
<circle cx="626.20" cy="644.00" r="1.6" fill="#fff" stroke="#000" stroke-width="1.0"/>
<circle cx="626.20" cy="655.40" r="1.6" fill="#fff" stroke="#000" stroke-width="1.0"/>
<circle cx="626.20" cy="669.00" r="1.6" fill="#fff" stroke="#000" stroke-width="1.0"/>
<circle cx="651.20" cy="629.20" r="1.6" fill="#fff" stroke="#000" stroke-width="1.0"/>
<circle cx="644.60" cy="651.40" r="1.6" fill="#fff" stroke="#000" stroke-width="1.0"/>
<circle cx="658.00" cy="651.40" r="1.6" fill="#fff" stroke="#000" stroke-width="1.0"/>
<circle cx="651.20" cy="659.00" r="1.6" fill="#fff" stroke="#000" stroke-width="1.0"/>
<circle cx="651.20" cy="673.20" r="1.6" fill="#fff" stroke="#000" stroke-width="1.0"/>
<text x="0" y="0" font-size="18.90" font-weight="bold" font-style="normal" transform="translate(214.59 12.96)">MCs</text>
<text x="0" y="0" font-size="19.45" font-weight="bold" font-style="normal" transform="translate(535.06 13.57)">GCs</text>
<text x="0" y="0" font-size="21.98" font-weight="bold" font-style="normal" transform="translate(53.71 55.96)">a</text>
<text x="0" y="0" font-size="21.84" font-weight="normal" font-style="normal" stroke="#000" stroke-width="0.6" transform="translate(377.16 54.94)">b</text>
<text x="0" y="0" font-size="23.67" font-weight="bold" font-style="normal" transform="translate(50.37 296.61)">c</text>
<text x="0" y="0" font-size="21.39" font-weight="normal" font-style="normal" stroke="#000" stroke-width="0.6" transform="translate(368.60 295.43)">d</text>
<text x="0" y="0" font-size="21.28" font-weight="normal" font-style="normal" stroke="#000" stroke-width="0.6" transform="translate(57.49 543.21)">e</text>
<text x="0" y="0" font-size="24.00" font-weight="normal" font-style="normal" stroke="#000" stroke-width="0.6" transform="translate(375.90 543.90)">f</text>
<text x="0" y="0" font-size="11.47" font-weight="bold" font-style="italic" transform="translate(58.58 562.69)">Alkaline</text>
<text x="0" y="0" font-size="11.55" font-weight="bold" font-style="italic" transform="translate(68.09 707.40)">Acidic</text>
<text x="0" y="0" font-size="11.53" font-weight="bold" font-style="italic" transform="translate(383.58 568.19)">Alkaline</text>
<text x="0" y="0" font-size="11.32" font-weight="bold" font-style="italic" transform="translate(395.59 709.55)">Acidic</text>
<text x="0" y="0" font-size="13.58" font-weight="bold" font-style="normal" transform="translate(125.60 736.14)">EoN</text>
<text x="0" y="0" font-size="13.56" font-weight="bold" font-style="normal" transform="translate(451.61 738.08)">EoN</text>
<text x="0" y="0" font-size="13.89" font-weight="bold" font-style="normal" transform="translate(201.59 754.27)">Time (h)</text>
<text x="0" y="0" font-size="14.06" font-weight="bold" font-style="normal" transform="translate(526.59 754.33)">Time (h)</text>
<text x="0" y="0" font-size="18.65" font-weight="bold" font-style="normal" transform="translate(13.84 216.95) rotate(-90)">Stromal MgATP<tspan font-size="0.6em" dy="-0.53em">2-</tspan></text>
<text x="0" y="0" font-size="19.33" font-weight="bold" font-style="normal" transform="translate(16.38 453.88) rotate(-90) scale(0.9686 1)">Stromal NADPH</text>
<text x="0" y="0" font-size="18.35" font-weight="bold" font-style="normal" transform="translate(17.02 680.88) rotate(-90)">Stromal pH</text>
<text x="0" y="0" font-size="15.76" font-weight="bold" font-style="normal" transform="translate(66.92 182.41) rotate(-90) scale(1.0263 1)">Venus/CFP</text>
<text x="0" y="0" font-size="16.35" font-weight="bold" font-style="normal" transform="translate(393.87 184.90) rotate(-90) scale(0.9683 1)">Venus/CFP</text>
<text x="0" y="0" font-size="15.92" font-weight="bold" font-style="normal" transform="translate(56.66 456.47) rotate(-90)">Normalized R<tspan font-size="0.85em" dy="0.36em">405/488</tspan></text>
<text x="0" y="0" font-size="15.95" font-weight="bold" font-style="normal" transform="translate(381.88 457.44) rotate(-90)">Normalized R<tspan font-size="0.85em" dy="0.36em">405/488</tspan></text>
<text x="0" y="0" font-size="15.95" font-weight="bold" font-style="normal" transform="translate(62.79 658.44) rotate(-90) scale(1.0162 1)">R<tspan font-size="0.85em" dy="0.27em">488/405</tspan></text>
<text x="0" y="0" font-size="15.97" font-weight="bold" font-style="normal" transform="translate(388.79 660.40) rotate(-90) scale(0.9598 1)">R<tspan font-size="0.85em" dy="0.27em">488/405</tspan></text>
<rect x="108.6" y="20.4" width="246" height="2.2" fill="#000"/>
<rect x="438.0" y="21.6" width="235" height="2.2" fill="#000"/>
<rect x="26.6" y="56.6" width="2" height="176.4" fill="#000"/>
<rect x="26.6" y="300.6" width="2" height="168.3" fill="#000"/>
<rect x="26.6" y="548.6" width="2" height="175.0" fill="#000"/>
<rect x="224.10" y="60.70" width="8.00" height="8.00" fill="#616161" stroke="#222" stroke-width="1.0"/>
<rect x="224.10" y="74.10" width="8.00" height="8.00" fill="#d6d6d6" stroke="#555" stroke-width="1.0"/>
<text x="246.60" y="69.20" font-size="14" text-anchor="start" font-weight="bold" font-style="normal" letter-spacing="0.4" >0 min illumination</text>
<text x="246.60" y="82.70" font-size="14" text-anchor="start" font-weight="bold" font-style="normal" letter-spacing="0.4" >3 min illumination</text>
<rect x="547.50" y="66.50" width="8.00" height="8.00" fill="#616161" stroke="#222" stroke-width="1.0"/>
<rect x="547.50" y="79.90" width="8.00" height="8.00" fill="#d6d6d6" stroke="#555" stroke-width="1.0"/>
<text x="570.20" y="74.60" font-size="14" text-anchor="start" font-weight="bold" font-style="normal" letter-spacing="0.2" >0 min illumination</text>
<text x="570.20" y="88.10" font-size="14" text-anchor="start" font-weight="bold" font-style="normal" letter-spacing="0.2" >3 min illumination</text>
<text x="226.00" y="736.40" font-size="13.579073903589705" text-anchor="middle" font-weight="bold" font-style="normal" >2</text>
<text x="313.00" y="736.40" font-size="13.579073903589705" text-anchor="middle" font-weight="bold" font-style="normal" >8</text>
<text x="551.60" y="737.90" font-size="13.562680647343148" text-anchor="middle" font-weight="bold" font-style="normal" >2</text>
<text x="638.70" y="737.90" font-size="13.562680647343148" text-anchor="middle" font-weight="bold" font-style="normal" >8</text>
</svg>
</body></html>
